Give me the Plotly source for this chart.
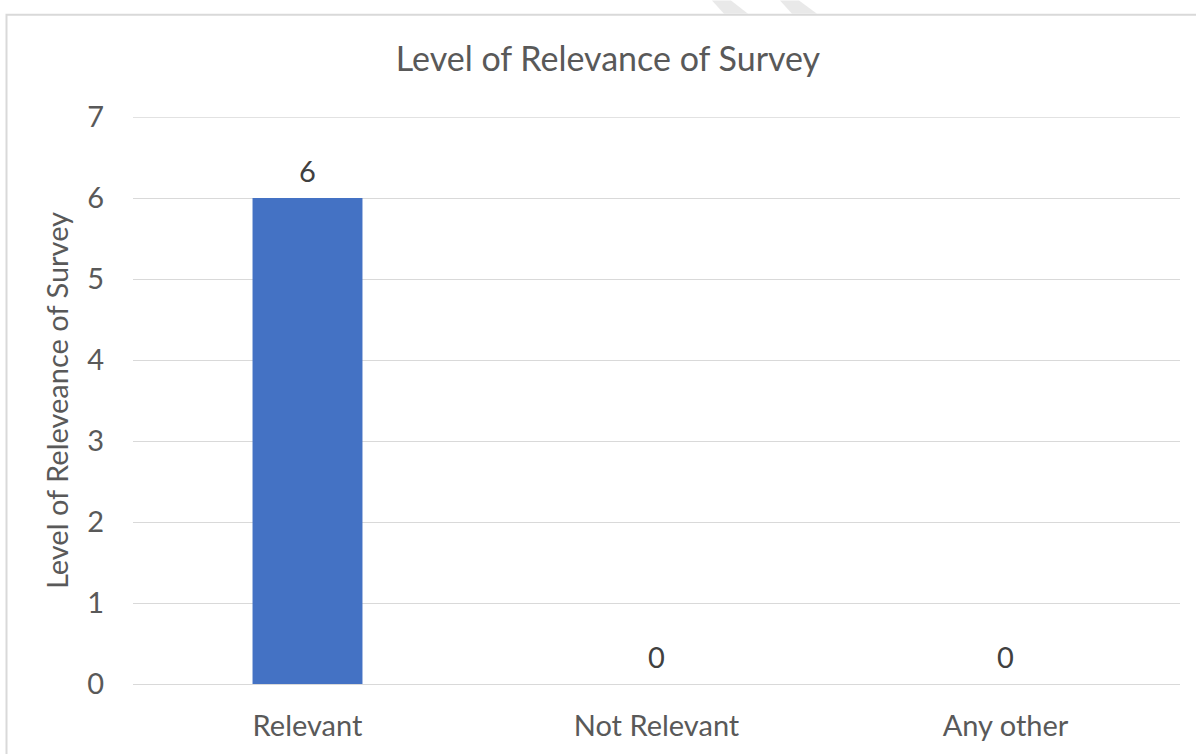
import plotly.graph_objects as go

categories = ["Relevant", "Not Relevant", "Any other"]
values = [6, 0, 0]
y_ticks = [0, 1, 2, 3, 4, 5, 6, 7]

W, H = 1196, 754
L, R, T, B = 133, 16, 117, 68
PW, PH = W - L - R, H - T - B

def px(x):
    return (x - L) / PW

def py(y):
    return 1 - (y - T) / PH

FONT = "Lato"
GREY = "#595959"
LBL = 29

fig = go.Figure()
fig.add_trace(go.Bar(
    x=categories, y=values,
    marker=dict(color="#4472C4", line=dict(width=0)),
    width=0.315,
    hoverinfo="x+y",
))

annotations = [
    dict(x=c, y=v, xref="x", yref="y", text=str(v), showarrow=False,
         yanchor="middle", yshift=28,
         font=dict(family=FONT, size=LBL, color="#404040"))
    for c, v in zip(categories, values)
]

shapes = [
    # chart border
    dict(type="rect", xref="paper", yref="paper",
         x0=px(6.5), x1=px(1205), y0=py(14.5), y1=py(770),
         line=dict(color="#d9d9d9", width=2), fillcolor="rgba(0,0,0,0)", layer="below"),
    # top gridline (at the edge of the range)
    dict(type="line", xref="paper", yref="y", x0=0, x1=1,
         y0=max(y_ticks), y1=max(y_ticks),
         line=dict(color="#d9d9d9", width=1.3), layer="below"),
    # watermark stripes above chart
    dict(type="path", xref="paper", yref="paper",
         path=f"M {px(712)} {py(0)} L {px(731)} {py(0)} L {px(748)} {py(13.5)} L {px(724)} {py(13.5)} Z",
         fillcolor="#e9e9e9", line=dict(width=0)),
    dict(type="path", xref="paper", yref="paper",
         path=f"M {px(780)} {py(0)} L {px(799)} {py(0)} L {px(817)} {py(13.5)} L {px(792)} {py(13.5)} Z",
         fillcolor="#e9e9e9", line=dict(width=0)),
]

fig.update_layout(
    width=W, height=H,
    margin=dict(l=L, r=R, t=T, b=B),
    paper_bgcolor="white", plot_bgcolor="white",
    showlegend=False,
    bargap=0.685,
    title=dict(text="Level of Relevance of Survey", xref="container", x=608 / W, xanchor="center",
               yref="container", y=1 - 59 / H, yanchor="middle",
               font=dict(family=FONT, size=34, color=GREY)),
    xaxis=dict(showgrid=False, showline=False, zeroline=False,
               tickfont=dict(family=FONT, size=LBL, color=GREY),
               ticks="", ticklabelstandoff=22),
    yaxis=dict(range=[0, 7], tickvals=y_ticks, showgrid=True,
               gridcolor="#d9d9d9", gridwidth=1.3,
               zeroline=True, zerolinecolor="#d9d9d9", zerolinewidth=1.3,
               showline=False, ticks="",
               tickfont=dict(family=FONT, size=LBL, color=GREY),
               ticklabelstandoff=28,
               title=dict(text="Level of Releveance of Survey",
                          font=dict(family=FONT, size=LBL, color=GREY),
                          standoff=10)),
    annotations=annotations,
    shapes=shapes,
)

fig.write_html("out.html")
